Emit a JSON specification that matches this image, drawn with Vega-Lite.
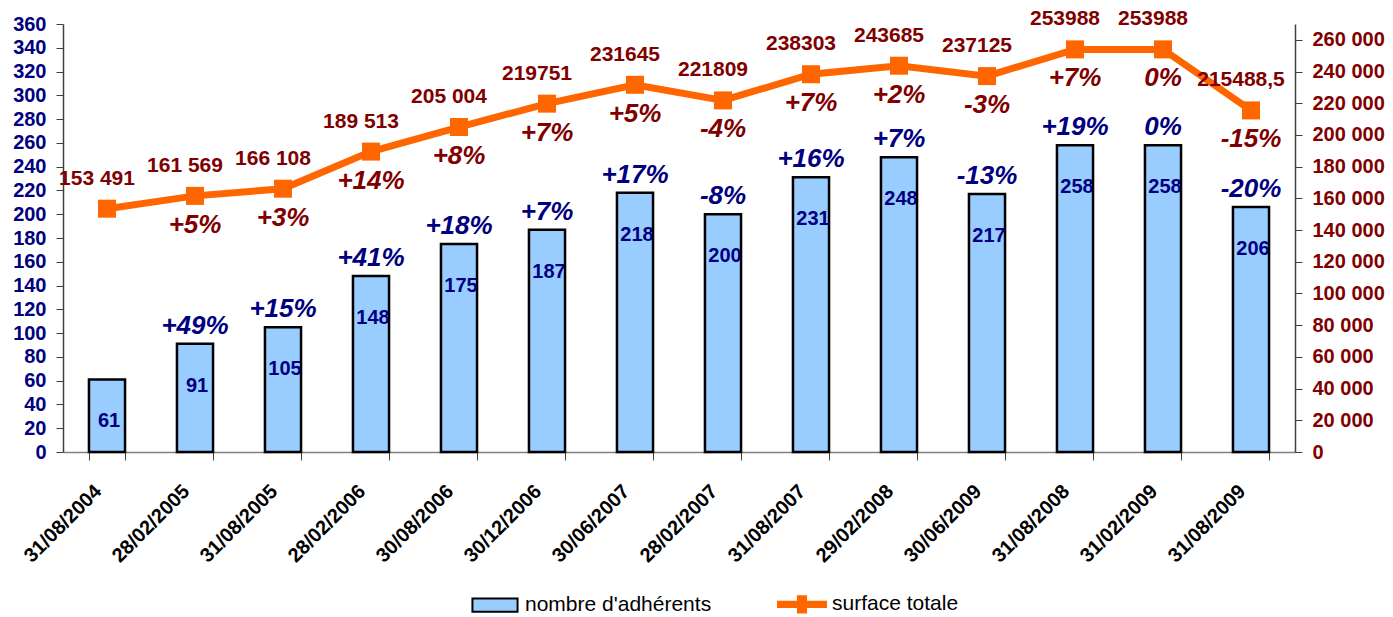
{
  "$schema": "https://vega.github.io/schema/vega-lite/v6.json",
  "width": 1232,
  "height": 428,
  "autosize": {"type": "none"},
  "padding": {"left": 63, "top": 24, "right": 98, "bottom": 165},
  "background": "white",
  "config": {
    "view": {"stroke": null},
    "font": "Liberation Sans",
    "legend": {
      "orient": "none",
      "legendX": 407,
      "legendY": 555,
      "direction": "horizontal",
      "title": null,
      "labelFont": "Liberation Sans",
      "labelFontSize": 21,
      "labelColor": "#000000",
      "labelLimit": 0,
      "symbolSize": 2304,
      "symbolStrokeWidth": 2,
      "symbolOpacity": 1,
      "columnPadding": 62,
      "labelOffset": 5
    }
  },
  "datasets": {
    "main": [
      {"date": "31/08/2004", "adh": 61, "adhPct": "", "surface": 153491, "surfLabel": "153 491", "surfPct": ""},
      {"date": "28/02/2005", "adh": 91, "adhPct": "+49%", "surface": 161569, "surfLabel": "161 569", "surfPct": "+5%"},
      {"date": "31/08/2005", "adh": 105, "adhPct": "+15%", "surface": 166108, "surfLabel": "166 108", "surfPct": "+3%"},
      {"date": "28/02/2006", "adh": 148, "adhPct": "+41%", "surface": 189513, "surfLabel": "189 513", "surfPct": "+14%"},
      {"date": "30/08/2006", "adh": 175, "adhPct": "+18%", "surface": 205004, "surfLabel": "205 004", "surfPct": "+8%"},
      {"date": "30/12/2006", "adh": 187, "adhPct": "+7%", "surface": 219751, "surfLabel": "219751", "surfPct": "+7%"},
      {"date": "30/06/2007", "adh": 218, "adhPct": "+17%", "surface": 231645, "surfLabel": "231645", "surfPct": "+5%"},
      {"date": "28/02/2007", "adh": 200, "adhPct": "-8%", "surface": 221809, "surfLabel": "221809", "surfPct": "-4%"},
      {"date": "31/08/2007", "adh": 231, "adhPct": "+16%", "surface": 238303, "surfLabel": "238303", "surfPct": "+7%"},
      {"date": "29/02/2008", "adh": 248, "adhPct": "+7%", "surface": 243685, "surfLabel": "243685", "surfPct": "+2%"},
      {"date": "30/06/2009", "adh": 217, "adhPct": "-13%", "surface": 237125, "surfLabel": "237125", "surfPct": "-3%"},
      {"date": "31/08/2008", "adh": 258, "adhPct": "+19%", "surface": 253988, "surfLabel": "253988", "surfPct": "+7%"},
      {"date": "31/02/2009", "adh": 258, "adhPct": "0%", "surface": 253988, "surfLabel": "253988", "surfPct": "0%"},
      {"date": "31/08/2009", "adh": 206, "adhPct": "-20%", "surface": 215488.5, "surfLabel": "215488,5", "surfPct": "-15%"}
    ],
    "legend": [
      {"serie": "nombre d'adhérents"},
      {"serie": "surface totale"}
    ]
  },
  "data": {"name": "main"},
  "encoding": {
    "x": {
      "field": "date",
      "type": "nominal",
      "sort": null,
      "scale": {"paddingInner": 0.59, "paddingOuter": 0.295},
      "axis": {
        "title": null,
        "labelAngle": -45,
        "labelAlign": "right",
        "labelBaseline": "middle",
        "labelFont": "Liberation Sans",
        "labelFontWeight": "bold",
        "labelFontSize": 20,
        "labelColor": "#000000",
        "labelPadding": 28,
        "labelOffset": -9,
        "tickBand": "extent",
        "tickSize": 8,
        "tickColor": "#404040",
        "domainColor": "#808080",
        "domainWidth": 1.5,
        "grid": false
      }
    }
  },
  "layer": [
    {
      "encoding": {
        "y": {
          "field": "adh",
          "type": "quantitative",
          "scale": {"domain": [0, 360], "nice": false, "zero": true},
          "axis": {
            "title": null,
            "orient": "left",
            "values": [0, 20, 40, 60, 80, 100, 120, 140, 160, 180, 200, 220, 240, 260, 280, 300, 320, 340, 360],
            "labelFont": "Liberation Sans",
            "labelFontWeight": "bold",
            "labelFontSize": 20,
            "labelColor": "#000080",
            "labelPadding": 10,
            "tickSize": 7,
            "tickColor": "#404040",
            "domainColor": "#404040",
            "domainWidth": 1.5,
            "grid": false
          }
        }
      },
      "layer": [
        {"mark": {"type": "bar", "fill": "#99CCFF", "stroke": "#000000", "strokeWidth": 2.5}},
        {
          "mark": {"type": "text", "baseline": "middle", "align": "center", "dy": 42, "dx": 2, "font": "Liberation Sans", "fontWeight": "bold", "fontSize": 20, "color": "#000080"},
          "encoding": {"text": {"field": "adh", "type": "quantitative"}}
        },
        {
          "mark": {"type": "text", "baseline": "middle", "align": "center", "dy": -18, "font": "Liberation Sans", "fontWeight": "bold", "fontStyle": "italic", "fontSize": 26, "color": "#000080"},
          "encoding": {"text": {"field": "adhPct", "type": "nominal"}}
        }
      ]
    },
    {
      "encoding": {
        "y": {
          "field": "surface",
          "type": "quantitative",
          "scale": {"domain": [0, 270000], "nice": false, "zero": true},
          "axis": {
            "title": null,
            "orient": "right",
            "values": [0, 20000, 40000, 60000, 80000, 100000, 120000, 140000, 160000, 180000, 200000, 220000, 240000, 260000],
            "labelExpr": "replace(format(datum.value, ','), ',', ' ')",
            "labelFont": "Liberation Sans",
            "labelFontWeight": "bold",
            "labelFontSize": 20,
            "labelColor": "#800000",
            "labelPadding": 10,
            "tickSize": 7,
            "tickColor": "#404040",
            "domainColor": "#404040",
            "domainWidth": 1.5,
            "grid": false
          }
        }
      },
      "layer": [
        {
          "mark": {"type": "line", "color": "#FF6600", "strokeWidth": 7, "point": {"shape": "square", "size": 324, "filled": true, "color": "#FF6600", "opacity": 1}}
        },
        {
          "mark": {"type": "text", "baseline": "middle", "align": "center", "dy": -30, "dx": -10, "font": "Liberation Sans", "fontWeight": "bold", "fontSize": 21, "color": "#800000"},
          "encoding": {"text": {"field": "surfLabel", "type": "nominal"}}
        },
        {
          "mark": {"type": "text", "baseline": "middle", "align": "center", "dy": 29, "font": "Liberation Sans", "fontWeight": "bold", "fontStyle": "italic", "fontSize": 26, "color": "#800000"},
          "encoding": {"text": {"field": "surfPct", "type": "nominal"}}
        }
      ]
    },
    {
      "data": {"name": "legend"},
      "mark": {"type": "point", "opacity": 0},
      "encoding": {
        "x": {"value": 0},
        "y": {"value": 0},
        "fill": {
          "field": "serie",
          "type": "nominal",
          "scale": {"domain": ["nombre d'adhérents", "surface totale"], "range": ["#99CCFF", "#FF6600"]}
        },
        "stroke": {
          "field": "serie",
          "type": "nominal",
          "scale": {"domain": ["nombre d'adhérents", "surface totale"], "range": ["#000000", "#FF6600"]}
        },
        "shape": {
          "field": "serie",
          "type": "nominal",
          "scale": {"domain": ["nombre d'adhérents", "surface totale"], "range": ["M-0.94,-0.28H0.94V0.28H-0.94Z", "M-1,-0.11H-0.17V-0.34H0.17V-0.11H1V0.11H0.17V0.34H-0.17V0.11H-1Z"]}
        }
      }
    }
  ],
  "resolve": {"scale": {"y": "independent"}}
}
